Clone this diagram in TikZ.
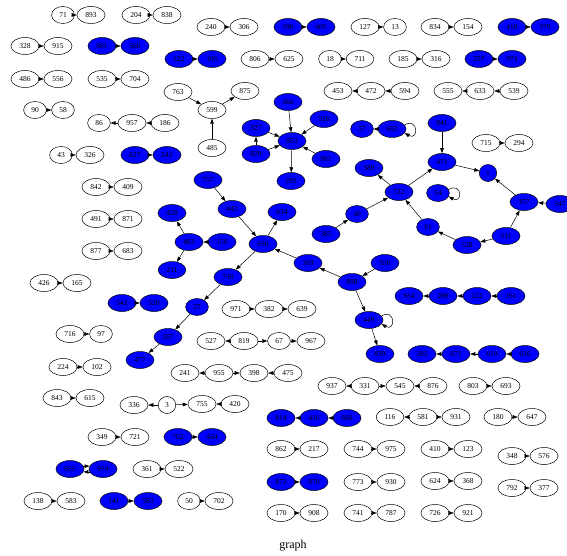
\documentclass[tikz,border=0pt]{standalone}
\usepackage{fontspec}
\setmainfont{Liberation Serif}
\usetikzlibrary{shapes.geometric,arrows.meta}
\tikzset{
 nd/.style={ellipse, draw=black, line width=0.5pt, inner xsep=4.3pt, inner ysep=0pt, minimum height=17pt, font=\fontsize{7.5}{8}\selectfont, text=black},
 wn/.style={nd, fill=white},
 bn/.style={nd, fill=blue},
 edge/.style={draw=black, line width=0.5pt, -{Triangle[length=5pt,width=3.6pt]}},
}
\newcommand\mkw[3]{\node[wn] (n#1) at (#2pt,-#3pt) {#1};}
\newcommand\mkb[3]{\node[bn] (n#1) at (#2pt,-#3pt) {#1};}
\newcommand\ed[2]{\draw[edge] (n#1) -- (n#2);}
\newcommand\selfloop[1]{\draw[edge] (n#1.18) .. controls +(14pt,8pt) and +(14pt,-8pt) .. (n#1.-18);}
\begin{document}
\begin{tikzpicture}
\useasboundingbox (0,0) rectangle (567pt,-556pt);
% row 15/27
\mkw{71}{63}{15}\mkw{893}{91}{15}\mkw{204}{136}{15}\mkw{838}{167}{15}
\mkw{240}{211}{27}\mkw{306}{244}{27}\mkb{390}{288}{27}\mkb{605}{321}{27}
\mkw{127}{365}{27}\mkw{13}{395}{27}\mkw{834}{435}{27}\mkw{154}{468}{27}
\mkb{418}{512}{27}\mkb{379}{545}{27}
% row 46/59
\mkw{328}{25}{46}\mkw{915}{58}{46}\mkb{801}{102}{46}\mkb{560}{135}{46}
\mkb{222}{179}{59}\mkb{105}{212}{59}\mkw{806}{255}{59}\mkw{625}{289}{59}
\mkw{18}{330}{59}\mkw{711}{360}{59}\mkw{185}{403}{59}\mkw{316}{436}{59}
\mkb{257}{479}{59}\mkb{973}{512}{59}
% row 79-123
\mkw{486}{25}{79}\mkw{556}{58}{79}\mkw{535}{102}{79}\mkw{704}{135}{79}
\mkw{763}{178}{92}\mkw{875}{245}{91}\mkw{599}{212}{110}\mkw{485}{212}{148}
\mkw{453}{338}{91}\mkw{472}{371}{91}\mkw{594}{405}{91}
\mkw{555}{448}{91}\mkw{633}{480}{91}\mkw{539}{514}{91}
\mkw{90}{35}{110}\mkw{58}{63}{110}
\mkw{86}{99}{123}\mkw{957}{132}{123}\mkw{186}{165}{123}
% 853 cluster
\mkb{366}{288}{102}\mkb{526}{324}{119}\mkb{327}{256}{128}\mkb{853}{292}{141}
\mkb{829}{256}{154}\mkb{901}{326}{159}\mkb{292}{291}{181}
\mkb{57}{362}{129}\mkb{692}{392}{129}
\mkb{841}{442}{123}\mkw{715}{486}{143}\mkw{294}{519}{143}
\mkw{43}{61}{155}\mkw{326}{90}{155}\mkb{627}{135}{155}\mkb{242}{167}{155}
\mkb{471}{442}{162}\mkb{1}{488}{173}\mkb{389}{369}{168}
\mkb{757}{208}{180}\mkw{842}{96}{187}\mkw{409}{128}{187}
\mkb{722}{399}{192}\mkb{54}{438}{193}\mkb{157}{524}{202}\mkb{547}{560}{204}
\mkb{442}{232}{209}\mkb{634}{282}{212}\mkb{429}{172}{213}\mkb{40}{357}{214}
\mkw{491}{96}{219}\mkw{871}{128}{219}
\mkb{61}{428}{227}\mkb{385}{326}{234}\mkb{531}{506}{236}\mkb{538}{467}{245}
\mkb{483}{189}{242}\mkb{150}{222}{242}\mkb{630}{263}{244}
\mkw{877}{96}{251}\mkw{683}{128}{251}
\mkb{369}{308}{263}\mkb{550}{385}{263}\mkb{211}{172}{270}\mkb{730}{228}{277}\mkb{898}{352}{282}
\mkw{426}{44}{283}\mkw{165}{77}{283}
\mkb{934}{409}{296}\mkb{289}{443}{296}\mkb{122}{477}{296}\mkb{191}{511}{296}
\mkb{542}{122}{303}\mkb{520}{154}{303}
\mkb{27}{197}{307}\mkw{971}{236}{309}\mkw{382}{269}{309}\mkw{639}{302}{309}
\mkb{449}{369}{320}
\mkw{716}{70}{334}\mkw{97}{101}{334}
\mkb{267}{168}{337}\mkw{527}{211}{341}\mkw{819}{244}{341}\mkw{67}{279}{341}\mkw{967}{311}{341}
\mkb{839}{380}{354}\mkb{282}{422}{354}\mkb{671}{456}{354}\mkb{610}{492}{354}\mkb{616}{525}{354}
\mkb{477}{140}{360}
\mkw{224}{63}{367}\mkw{102}{97}{367}
\mkw{241}{185}{373}\mkw{955}{219}{373}\mkw{398}{254}{373}\mkw{475}{288}{373}
\mkw{937}{332}{386}\mkw{331}{365}{386}\mkw{545}{400}{386}\mkw{876}{433}{386}
\mkw{803}{473}{386}\mkw{693}{506}{386}
\mkw{843}{57}{398}\mkw{615}{90}{398}
\mkw{336}{134}{405}\mkw{3}{167}{405}\mkw{755}{202}{404}\mkw{420}{235}{404}
\mkw{116}{390}{417}\mkw{581}{423}{417}\mkw{931}{456}{417}\mkw{180}{498}{417}\mkw{647}{532}{417}
\mkb{814}{281}{418}\mkb{416}{314}{418}\mkb{666}{347}{418}
\mkw{349}{102}{437}\mkw{721}{135}{437}\mkb{762}{178}{437}\mkb{434}{212}{437}
\mkw{862}{281}{449}\mkw{217}{314}{449}\mkw{744}{358}{449}\mkw{975}{391}{449}
\mkw{410}{435}{449}\mkw{123}{468}{449}
\mkw{348}{512}{456}\mkw{576}{544}{456}
\mkb{655}{70}{469}\mkb{974}{103}{469}\mkw{361}{147}{469}\mkw{522}{179}{469}
\mkb{872}{281}{482}\mkb{870}{314}{482}\mkw{773}{358}{482}\mkw{930}{391}{482}
\mkw{624}{435}{481}\mkw{368}{468}{481}
\mkw{792}{512}{488}\mkw{377}{544}{488}
\mkw{138}{38}{501}\mkw{583}{71}{501}\mkb{141}{114}{501}
\node[bn] (n583b) at (148pt,-501pt) {583};
\mkw{50}{189}{501}\mkw{702}{219}{501}
\mkw{170}{281}{513}\mkw{908}{314}{513}\mkw{741}{358}{513}\mkw{787}{391}{513}
\mkw{726}{435}{513}\mkw{921}{468}{513}
\node[font=\fontsize{12}{14}\selectfont] (title) at (293pt,-546pt) {graph};
% pair edges
\ed{71}{893}\ed{204}{838}\ed{240}{306}\ed{390}{605}\ed{127}{13}\ed{834}{154}\ed{418}{379}
\ed{328}{915}\ed{801}{560}\ed{222}{105}\ed{806}{625}\ed{18}{711}\ed{185}{316}\ed{257}{973}
\ed{486}{556}\ed{535}{704}\ed{90}{58}\ed{43}{326}\ed{627}{242}\ed{842}{409}\ed{491}{871}
\ed{877}{683}\ed{715}{294}\ed{426}{165}\ed{542}{520}\ed{716}{97}\ed{224}{102}\ed{843}{615}
\ed{349}{721}\ed{762}{434}\ed{862}{217}\ed{744}{975}\ed{410}{123}\ed{348}{576}\ed{361}{522}
\ed{872}{870}\ed{773}{930}\ed{624}{368}\ed{792}{377}\ed{138}{583}\ed{141}{583b}\ed{50}{702}
\ed{170}{908}\ed{741}{787}\ed{726}{921}\ed{803}{693}\ed{180}{647}
% chains
\ed{957}{86}\ed{186}{957}
\ed{472}{453}\ed{594}{472}
\ed{633}{555}\ed{539}{633}
\ed{289}{934}\ed{122}{289}\ed{191}{122}
\ed{671}{282}\ed{610}{671}\ed{616}{610}
\ed{416}{814}\ed{666}{416}
\ed{971}{382}\ed{382}{639}
\ed{819}{527}\ed{819}{67}\ed{67}{967}
\ed{955}{241}\ed{955}{398}\ed{475}{398}
\ed{3}{336}\ed{3}{755}\ed{420}{755}
\ed{331}{937}\ed{331}{545}\ed{876}{545}
\ed{581}{116}\ed{581}{931}
\draw[edge] (n655.12) -- (n974.168);
\draw[edge] (n974.192) -- (n655.-12);
% main graph
\ed{763}{599}\ed{485}{599}\ed{599}{875}
\ed{366}{853}\ed{526}{853}\ed{327}{853}\ed{829}{853}\ed{829}{327}\ed{901}{853}\ed{853}{292}
\ed{692}{57}\selfloop{692}
\ed{841}{471}\ed{722}{471}\ed{471}{1}\ed{157}{1}\ed{547}{157}\ed{531}{157}\ed{531}{538}
\ed{538}{61}\ed{61}{722}\ed{722}{389}\ed{40}{722}\ed{385}{40}\selfloop{54}
\ed{550}{898}\ed{898}{369}\ed{898}{449}\selfloop{449}\ed{449}{839}
\ed{369}{630}\ed{630}{634}\ed{442}{630}\ed{757}{442}\ed{630}{730}\ed{730}{27}\ed{27}{267}\ed{267}{477}
\ed{483}{429}\ed{483}{211}\ed{150}{483}
\end{tikzpicture}
\end{document}
